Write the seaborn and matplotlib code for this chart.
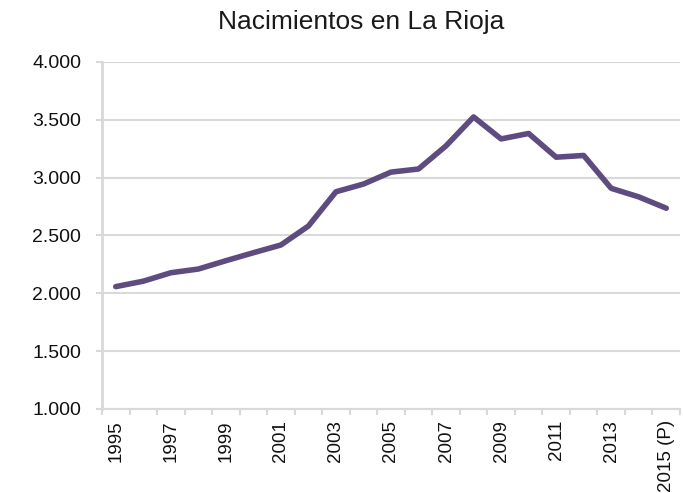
import numpy as np
import pandas as pd
import seaborn as sns
import matplotlib.pyplot as plt
from matplotlib.ticker import FuncFormatter

years = ['1995', '1996', '1997', '1998', '1999', '2000', '2001', '2002', '2003',
         '2004', '2005', '2006', '2007', '2008', '2009', '2010', '2011', '2012',
         '2013', '2014', '2015 (P)']
births = [2058, 2105, 2178, 2210, 2282, 2351, 2418, 2582, 2878, 2945, 3048,
          3075, 3275, 3525, 3335, 3382, 3177, 3192, 2908, 2834, 2736]

line_color = '#5E4B80'
grid_color = '#D9D9D9'

sns.set_theme(style='white')
plt.rcParams['font.family'] = ['Liberation Sans', 'DejaVu Sans']

df = pd.DataFrame({'pos': np.arange(len(years)), 'births': births})

fig = plt.figure(figsize=(6.83, 4.93), dpi=100)
ax = fig.add_axes([102 / 683, 1 - 409 / 493, (680 - 102) / 683, (409 - 62) / 493])

sns.lineplot(x='pos', y='births', data=df, ax=ax, color=line_color,
             linewidth=4, solid_joinstyle='round', solid_capstyle='round')

ax.set_xlim(-0.5, len(years) - 0.5)
ax.set_ylim(1000, 4000)
ax.set_yticks(np.arange(1000, 4001, 500))
ax.yaxis.set_major_formatter(FuncFormatter(lambda v, p: f'{int(v):,}'.replace(',', '.')))
ax.grid(True, axis='y', color=grid_color, linewidth=1.5)
ax.set_axisbelow(True)

# labels every other category at centres, tick marks between categories
ax.set_xticks(df['pos'][::2])
ax.set_xticklabels(years[::2], rotation=90)
ax.set_xticks(np.arange(-0.5, len(years), 1.0), minor=True)
ax.tick_params(axis='x', which='major', length=0, pad=8, labelsize=13.5, labelcolor='#111111')
ax.tick_params(axis='x', which='minor', length=4, width=1.5, color=grid_color, bottom=True)
ax.tick_params(axis='y', length=4, width=1.5, color=grid_color, left=True, pad=11,
               labelsize=14, labelcolor='#111111')

for s in ['top', 'right']:
    ax.spines[s].set_visible(False)
ax.spines['left'].set_color(grid_color)
ax.spines['left'].set_linewidth(2)
ax.spines['bottom'].set_color(grid_color)
ax.spines['bottom'].set_linewidth(1.5)

ax.set_xlabel('')
ax.set_ylabel('')

fig.text(361 / 683, 1 - 28.5 / 493, 'Nacimientos en La Rioja', ha='center',
         va='baseline', fontsize=19, color='#1a1a1a')

fig.savefig('out.png', dpi=100)
